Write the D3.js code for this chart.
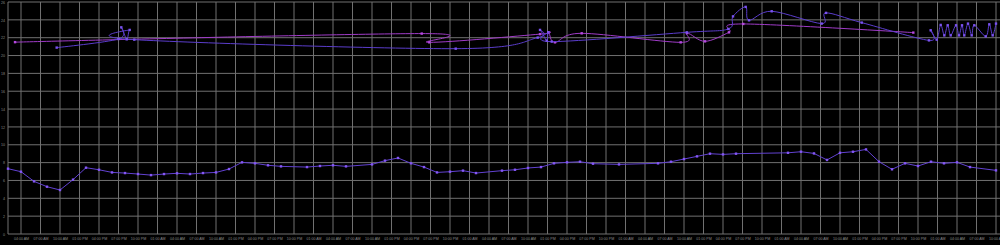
<!DOCTYPE html>
<html><head><meta charset="utf-8">
<script src="https://cdn.jsdelivr.net/npm/d3@7"></script>
<style>html,body{margin:0;padding:0;background:#000;overflow:hidden}</style>
</head><body><svg id="c" width="1000" height="245"></svg>
<script>
// hours since 2024-01-01 00:00 UTC
const lowerHours  = [2,4,6,8,10,12,14,16,18,20,22,24,26,28,30,32,34,36,38,40,42,44,48,50,52,54,58,60,62,64,66,68,70,72,74,78,80,82,84,86,88,90,92,96,102,104,106,108,110,112,114,122,124,126,128,130,132,134,136,138,140,142,144,146,148,150,154];
const lowerValues = [7.32,6.98,5.9,5.3,4.93,6.09,7.43,7.2,6.9,6.83,6.72,6.6,6.72,6.8,6.72,6.83,6.9,7.28,8.03,7.92,7.7,7.58,7.5,7.62,7.7,7.58,7.8,8.22,8.52,7.92,7.5,6.9,6.98,7.1,6.83,7.1,7.2,7.4,7.5,7.92,8.03,8.1,7.88,7.8,7.92,8.1,8.4,8.7,9.0,8.92,9.0,9.1,9.22,9.03,8.3,9.1,9.22,9.48,8.1,7.25,7.92,7.62,8.1,7.92,8.03,7.5,7.13];

const magentaHours  = [3.08,65.65,66.82,83.85,85.12,86.15,90.26,105.49,106.46,109.23,112.92,115.12,141.28];
const magentaValues = [21.5,22.46,21.48,22.4,22.6,21.48,22.49,21.48,22.51,21.59,22.6,23.54,22.57];

const purpleHours  = [9.49,19.0,19.43,20.26,20.72,21.43,70.88,83.49,83.85,84.88,85.12,85.65,106.42,112.82,113.54,115.49,116.0,119.49,127.18,127.85,133.34,143.69,143.95,144.88,145.49,146.05,146.57,147.03,147.85,148.31,148.77,149.12,149.69,150.26,150.66,152.42,152.97,153.49,154.0];
const purpleValues = [20.89,21.86,23.16,21.82,22.87,21.78,20.77,22.01,22.87,21.67,22.6,21.56,22.6,22.98,24.39,25.45,23.95,24.96,23.58,24.78,23.69,21.7,22.83,21.78,23.43,22.26,23.39,22.26,23.39,22.26,23.39,22.26,23.58,22.26,23.39,22.15,23.5,22.26,23.58];

const yTickValues = [0,2,4,6,8,10,12,14,16,18,20,22,24,26];
const xTickStartHour = 4, xTickStepHours = 3;

const base = Date.UTC(2024,0,1);
const toDate = h => new Date(base + h*3600e3);
const mk = (hs, vs) => hs.map((h,i)=>({t:toDate(h), v:vs[i]}));
const lower = mk(lowerHours, lowerValues);
const magenta = mk(magentaHours, magentaValues);
const purple = mk(purpleHours, purpleValues);

const W = 1000, H = 245;
const L = 8, R = 996, T = 2, B = 234;
const allT = [...lower, ...magenta, ...purple].map(d=>d.t);
const x = d3.scaleUtc().domain(d3.extent(allT)).range([L, R]);
const y = d3.scaleLinear().domain([0, 26]).range([B, T]);

const svg = d3.select('#c');
svg.append('rect').attr('width',W).attr('height',H).attr('fill','#000');

const xTicks = d3.utcHour.range(toDate(xTickStartHour), new Date(x.domain()[1].getTime()+1), xTickStepHours);
const fmt = d3.utcFormat('%I:%M %p');

// grid
const grid = svg.append('g').attr('stroke','#707070').attr('stroke-width',1);
grid.selectAll('line.h').data(yTickValues).join('line').attr('class','h')
  .attr('x1',L).attr('x2',W).attr('y1',d=>y(d)).attr('y2',d=>y(d));
grid.selectAll('line.v').data(xTicks).join('line').attr('class','v')
  .attr('x1',d=>x(d)).attr('x2',d=>x(d)).attr('y1',T).attr('y2',B);
grid.append('line').attr('x1',L).attr('x2',L).attr('y1',T).attr('y2',B);

// axes via d3 axis
const yAxis = svg.append('g').attr('transform',`translate(${L},0)`)
  .call(d3.axisLeft(y).tickValues(yTickValues).tickSize(0).tickPadding(3));
const xAxis = svg.append('g').attr('transform',`translate(0,${B})`)
  .call(d3.axisBottom(x).tickValues(xTicks).tickFormat(fmt).tickSize(0).tickPadding(3));
[yAxis, xAxis].forEach(a=>{
  a.select('.domain').remove();
  a.selectAll('text').attr('fill','#8a8a8a').style('font-family','Liberation Sans, Arial, sans-serif').style('font-size','3.6px');
});

const lineLin = d3.line().x(d=>x(d.t)).y(d=>y(d.v));
const lineCurve = d3.line().x(d=>x(d.t)).y(d=>y(d.v)).curve(d3.curveCardinal.tension(0));

function series(data, gen, stroke, pt){
  svg.append('path').datum(data).attr('d',gen).attr('fill','none')
    .attr('stroke',stroke).attr('stroke-width',1);
  svg.append('g').selectAll('rect').data(data).join('rect')
    .attr('x',d=>x(d.t)-1.2).attr('y',d=>y(d.v)-1.2).attr('width',2.4).attr('height',2.4)
    .attr('fill',pt);
}
series(magenta, lineCurve, '#a03cc8', '#b548e0');
series(purple, lineCurve, '#5b3dcc', '#7a52f0');
series(lower, lineLin, '#6242d2', '#8456f5');
</script></body></html>
